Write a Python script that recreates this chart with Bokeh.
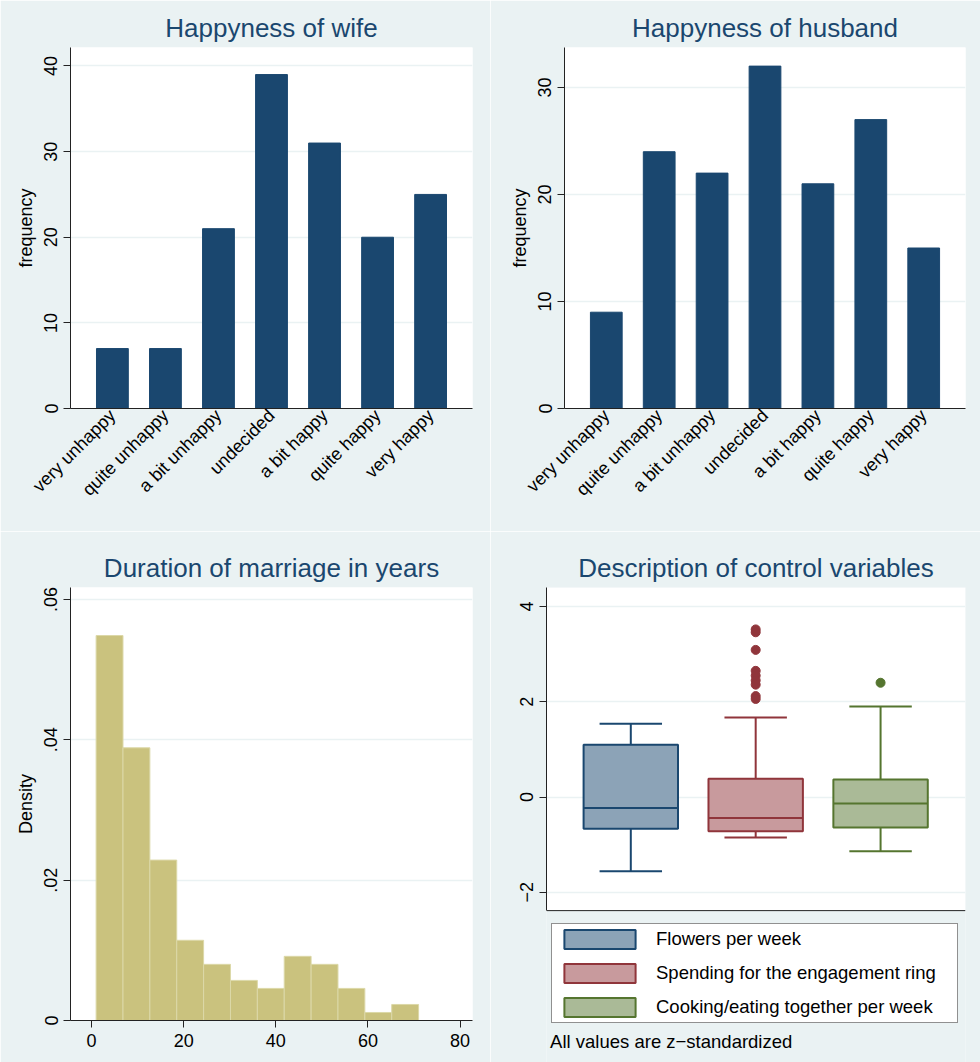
import math

from bokeh.embed import file_html
from bokeh.layouts import column, row
from bokeh.models import (BoxAnnotation, ColumnDataSource, FactorRange, FixedTicker,
                          Label, Legend, LegendItem, Range1d, Span)
from bokeh.plotting import figure
from bokeh.resources import INLINE
from bokeh.transform import dodge

# ---------------------------------------------------------------- data
happiness_levels = ["very unhappy", "quite unhappy", "a bit unhappy", "undecided",
                    "a bit happy", "quite happy", "very happy"]
wife_frequency = [7, 7, 21, 39, 31, 20, 25]
husband_frequency = [9, 24, 22, 32, 21, 27, 15]
wife_ticks = [0, 10, 20, 30, 40]
husband_ticks = [0, 10, 20, 30]

# marriage duration histogram: 12 bins from 1 to 71 years
duration_bin_start = 1.0
duration_bin_width = 70 / 12
duration_counts = [48, 34, 20, 10, 7, 5, 4, 8, 7, 4, 1, 2]
duration_ticks = [0, 20, 40, 60, 80]
density_ticks = [0, 0.02, 0.04, 0.06]
density_tick_labels = ["0", ".02", ".04", ".06"]

# z-standardized control variables (box plot summaries)
control_variables = ["Flowers per week", "Spending for the engagement ring",
                     "Cooking/eating together per week"]
whisker_low = [-1.56, -0.85, -1.14]
quartile_1 = [-0.665, -0.72, -0.637]
median = [-0.23, -0.44, -0.134]
quartile_3 = [1.097, 0.384, 0.37]
whisker_high = [1.54, 1.67, 1.90]
ring_outliers = [3.52, 3.46, 3.09, 2.65, 2.55, 2.45, 2.36, 2.12, 2.06]
cooking_outliers = [2.40]
z_ticks = [-2, 0, 2, 4]
z_tick_labels = ["\u22122", "0", "2", "4"]
footnote = "All values are z\u2212standardized"

# ---------------------------------------------------------------- style
BG = "#EAF2F3"
FONT = "Liberation Sans"
NAVY = "#1A476F"
MAROON = "#90353B"
GREEN = "#55752F"
AXIS = "#222222"


def base_figure(title, x_range, y_range, left, right, top, bottom, **kw):
    p = figure(width=490, height=531, x_range=x_range, y_range=y_range,
               output_backend="svg", toolbar_location=None,
               min_border_left=left, min_border_right=right,
               min_border_top=top, min_border_bottom=bottom, **kw)
    p.frame_align = False
    p.title.text = title
    p.title.align = "center"
    p.title.text_font = FONT
    p.title.text_font_size = "26px"
    p.title.text_font_style = "normal"
    p.title.text_color = NAVY
    p.title.standoff = 10
    p.background_fill_color = "white"
    p.border_fill_color = BG
    p.outline_line_color = None
    p.xgrid.visible = False
    p.ygrid.grid_line_color = BG
    p.ygrid.grid_line_width = 1.5
    for ax in p.axis:
        ax.axis_line_color = AXIS
        ax.axis_line_width = 1
        ax.major_tick_line_color = AXIS
        ax.minor_tick_line_color = None
        ax.major_tick_in = 0
        ax.major_tick_out = 7
        ax.major_label_standoff = 6
        ax.major_label_text_font = FONT
        ax.major_label_text_font_size = "18px"
        ax.major_label_text_color = "black"
        ax.axis_label_text_font = FONT
        ax.axis_label_text_font_size = "18px"
        ax.axis_label_text_font_style = "normal"
        ax.axis_label_text_color = "black"
        ax.axis_label_standoff = 6
    p.yaxis.major_label_orientation = "vertical"
    return p


def bar_panel(title, freq, ymax, ticks, left, right):
    xr = FactorRange(*happiness_levels, range_padding=0.29,
                     range_padding_units="absolute")
    p = base_figure(title, xr, Range1d(0, ymax), left, right, 47, 123)
    src = ColumnDataSource(dict(level=happiness_levels, freq=freq))
    p.vbar(x="level", top="freq", width=0.6, source=src,
           fill_color=NAVY, line_color=NAVY, line_width=1)
    p.yaxis.ticker = FixedTicker(ticks=ticks)
    p.yaxis.axis_label = "frequency"
    p.xaxis.major_tick_out = 0
    p.xaxis.major_label_standoff = 4
    p.xaxis.major_label_orientation = math.pi / 4
    return p


p1 = bar_panel("Happyness of wife", wife_frequency, 42.16, wife_ticks, 70, 18)
p2 = bar_panel("Happyness of husband", husband_frequency, 33.74, husband_ticks, 74, 15)

# ---- histogram of marriage duration (density scale)
n_obs = sum(duration_counts)
left_edges = [duration_bin_start + i * duration_bin_width for i in range(len(duration_counts))]
right_edges = [e + duration_bin_width for e in left_edges]
density = [c / (n_obs * duration_bin_width) for c in duration_counts]

p3 = base_figure("Duration of marriage in years", Range1d(-4.56, 82.7),
                 Range1d(0, 0.0617), 70, 18, 56, 42)
p3.quad(left=left_edges, right=right_edges, bottom=0, top=density,
        fill_color="#CAC27E", line_color="#DCD8A8", line_width=1)
p3.xaxis.ticker = FixedTicker(ticks=duration_ticks)
p3.yaxis.ticker = FixedTicker(ticks=density_ticks)
p3.yaxis.major_label_overrides = dict(zip(density_ticks, density_tick_labels))
p3.yaxis.axis_label = "Density"

# ---- box plots of the control variables
# The frame reaches the bottom edge so that the legend and the footnote can sit
# under the plot region; the white plot region itself stops at z_axis_min.
z_axis_min, z_axis_max = -2.384, 4.4
z_frame_min = -5.573
p4 = base_figure("Description of control variables", Range1d(0.325, 3.68),
                 Range1d(z_frame_min, z_axis_max), 56, 15, 56, 0,
                 x_axis_location=None)
p4.background_fill_color = BG
p4.add_layout(BoxAnnotation(bottom=z_axis_min, fill_color="white", fill_alpha=1,
                            line_color=None, level="image"))
p4.add_layout(Span(location=z_axis_min, dimension="width", line_color=AXIS,
                   line_width=1))

box_src = ColumnDataSource(dict(
    pos=[1, 2, 3], q1=quartile_1, q3=quartile_3, med=median,
    lo=whisker_low, hi=whisker_high,
    edge=[NAVY, MAROON, GREEN],
    fill=["#8CA3B7", "#C89A9D", "#AABA97"],
))
p4.segment(x0="pos", x1="pos", y0="q3", y1="hi", line_color="edge", line_width=2, source=box_src)
p4.segment(x0="pos", x1="pos", y0="lo", y1="q1", line_color="edge", line_width=2, source=box_src)
p4.segment(x0=dodge("pos", -0.25), x1=dodge("pos", 0.25), y0="hi", y1="hi",
           line_color="edge", line_width=2, source=box_src)
p4.segment(x0=dodge("pos", -0.25), x1=dodge("pos", 0.25), y0="lo", y1="lo",
           line_color="edge", line_width=2, source=box_src)
boxes = p4.vbar(x="pos", width=0.756, bottom="q1", top="q3", fill_color="fill",
                line_color="edge", line_width=2, source=box_src)
p4.segment(x0=dodge("pos", -0.378), x1=dodge("pos", 0.378), y0="med", y1="med",
           line_color="edge", line_width=2, source=box_src)
p4.scatter(x=[2] * len(ring_outliers), y=ring_outliers, size=9,
           fill_color=MAROON, line_color=MAROON)
p4.scatter(x=[3] * len(cooking_outliers), y=cooking_outliers, size=9,
           fill_color=GREEN, line_color=GREEN)
p4.yaxis.ticker = FixedTicker(ticks=z_ticks)
p4.yaxis.major_label_overrides = dict(zip(z_ticks, z_tick_labels))
p4.yaxis.bounds = (z_axis_min, z_axis_max)

# area swatches are drawn at 80% of the glyph box, hence the larger glyph size
legend = Legend(
    items=[LegendItem(label=name, renderers=[boxes], index=i)
           for i, name in enumerate(control_variables)],
    location=(5, 39), orientation="vertical",
    glyph_width=89, glyph_height=24, label_standoff=12, spacing=10,
    padding=3, margin=0, label_width=298,
    label_text_font=FONT, label_text_font_size="18.5px", label_text_color="black",
    border_line_color=AXIS, border_line_width=1,
    background_fill_color="white", background_fill_alpha=1,
)
p4.add_layout(legend)
p4.add_layout(Label(x=0.354, y=-5.132, text=footnote, text_font=FONT,
                    text_font_size="18.5px", text_color="black",
                    text_baseline="alphabetic"))

layout = column(row(p1, p2), row(p3, p4))

with open("out.html", "w") as f:
    f.write(file_html(layout, INLINE))
